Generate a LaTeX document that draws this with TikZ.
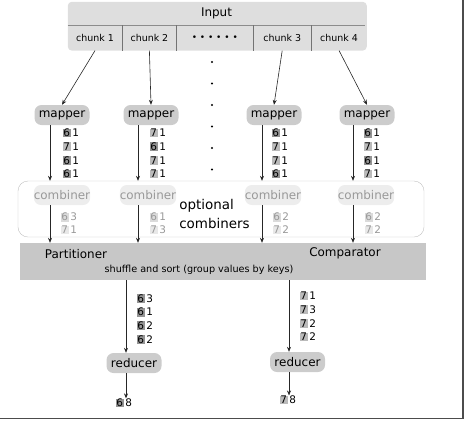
\documentclass[tikz,border=0pt]{standalone}
\usepackage{fontspec}
\setmainfont{DejaVu Sans}
\usetikzlibrary{arrows.meta,positioning,backgrounds}

\colorlet{six}{black!42}
\colorlet{seven}{black!27}
\colorlet{sixf}{black!14}
\colorlet{sevenf}{black!9}
\newcommand{\kv}[3]{{\setlength{\fboxsep}{0.5bp}\colorbox{#1}{#2}}\,#3}

\begin{document}
\begin{tikzpicture}[x=1bp, y=-1bp,
  node distance=0pt,
  chunk/.style={rectangle, minimum height=25bp, inner sep=0pt, font=\fontsize{9.5}{11}\selectfont},
  worker/.style={rectangle, rounded corners=7bp, fill=black!20, minimum width=55bp, minimum height=20bp, inner sep=0pt, font=\fontsize{12}{14}\selectfont},
  faded/.style={worker, fill=black!7, text=black!40},
  pairs/.style={align=left, inner sep=0pt, font=\fontsize{10.5}{13.7}\selectfont},
  arrow/.style={-{Stealth[length=5bp,width=4bp]}, line width=0.6bp, black!85}
]
  \useasboundingbox (0,0) rectangle (467,421);

  % input split into chunks
  \node[chunk, minimum width=297bp, minimum height=23bp, font=\fontsize{12}{14}\selectfont] (input) at (216.5,13.5) {Input};
  \node[chunk, minimum width=54bp, anchor=north west] (k1) at (input.south west) {chunk 1};
  \node[chunk, minimum width=54bp, right=of k1] (k2) {chunk 2};
  \node[chunk, minimum width=76bp, right=of k2, font=\fontsize{9}{11}\selectfont] (k3) {• • • • • •};
  \node[chunk, minimum width=58bp, right=of k3] (k4) {chunk 3};
  \node[chunk, minimum width=55bp, right=of k4] (k5) {chunk 4};
  \begin{scope}[on background layer]
    \fill[black!13, rounded corners=4bp] (input.north west) rectangle (k5.south east);
  \end{scope}
  \draw[black!45, line width=0.8bp] (input.south west) -- (input.south east);
  \foreach \k in {1,...,4}
    \draw[black!55, line width=0.8bp] (k\k.north east) -- (k\k.south east);
  \foreach \y in {62,83.5,...,170}
    \fill (212,\y) circle (1.2bp);

  % mappers
  \foreach \i/\x in {1/62,2/151,3/274,4/367}
    \node[worker] (m\i) at (\x,115) {mapper};
  \draw[arrow] (k1.south) -- (m1.north);
  \draw[arrow] (k2.south) -- (m2.north);
  \draw[arrow] (k4.south) -- (m3.north);
  \draw[arrow] (k5.south) -- (m4.north);

  \node[pairs] (p1) at (71,153.5) {\kv{six}{6}{1}\\\kv{seven}{7}{1}\\\kv{six}{6}{1}\\\kv{six}{6}{1}};
  \node[pairs] (p2) at (158,153.5) {\kv{seven}{7}{1}\\\kv{six}{6}{1}\\\kv{seven}{7}{1}\\\kv{seven}{7}{1}};
  \node[pairs] (p3) at (280,153.5) {\kv{six}{6}{1}\\\kv{seven}{7}{1}\\\kv{seven}{7}{1}\\\kv{six}{6}{1}};
  \node[pairs] (p4) at (372,153.5) {\kv{six}{6}{1}\\\kv{seven}{7}{1}\\\kv{six}{6}{1}\\\kv{seven}{7}{1}};

  % optional combiners
  \node[draw=black!25, rounded corners=10bp, minimum width=406bp, minimum height=56bp] (opt) at (221,209) {};
  \foreach \i/\x in {1/62,2/148,3/273,4/366}
    \node[faded] (c\i) at (\x,195) {combiner};
  \node[align=left, inner sep=0pt, font=\fontsize{13.5}{19}\selectfont] (optlabel) at (214.5,214) {optional\\combiners};
  \node[pairs, text=black!40] (q1) at (69,223.5) {\kv{sixf}{6}{3}\\[-0.7bp]\kv{sevenf}{7}{1}};
  \node[pairs, text=black!40] (q2) at (158,223.5) {\kv{sixf}{6}{1}\\[-0.7bp]\kv{sevenf}{7}{3}};
  \node[pairs, text=black!40] (q3) at (281,223.5) {\kv{sixf}{6}{2}\\[-0.7bp]\kv{sevenf}{7}{2}};
  \node[pairs, text=black!40] (q4) at (373,223.5) {\kv{sixf}{6}{2}\\[-0.7bp]\kv{sevenf}{7}{2}};

  % shuffle and sort
  \node[fill=black!22, minimum width=406bp, minimum height=37bp] (part) at (223,261.5) {};
  \node[font=\fontsize{12}{14}\selectfont] (partl) at (76,254) {Partitioner};
  \node[font=\fontsize{12}{14}\selectfont] (compl) at (345,253) {Comparator};
  \node[font=\fontsize{9.7}{11}\selectfont] (shuffle) at (199,270) {shuffle and sort (group values by keys)};

  \foreach \i/\x in {1/50,2/138,3/262,4/353} {
    \path (\x,0) coordinate (x\i);
    \draw[arrow] (m\i.south -| x\i) -- (opt.north -| x\i);
    \draw[arrow] (c\i.south -| x\i) -- (part.north -| x\i);
  }

  % reducers
  \node[worker] (r1) at (134,363) {reducer};
  \node[worker] (r2) at (297.5,362) {reducer};
  \node[pairs] (s1) at (145,319) {\kv{six}{6}{3}\\\kv{six}{6}{1}\\\kv{six}{6}{2}\\\kv{six}{6}{2}};
  \node[pairs] (s2) at (308,316.5) {\kv{seven}{7}{1}\\\kv{seven}{7}{3}\\\kv{seven}{7}{2}\\\kv{seven}{7}{2}};
  \node[pairs] (o1) at (124,403) {\kv{six}{6}{8}};
  \node[pairs] (o2) at (288,400) {\kv{seven}{7}{8}};
  \path (126,0) coordinate (y1) (289,0) coordinate (y2);
  \draw[arrow] (part.south -| y1) -- (r1.north -| y1);
  \draw[arrow] (part.south -| y2) -- (r2.north -| y2);
  \draw[arrow] (r1.south -| y1) -- (o1.north -| y1);
  \draw[arrow] (r2.south -| y2) -- (o2.north -| y2);

  % frame
  \draw[black!70, line width=1.6bp] (463,0) -- (463,418.5) -- (0,418.5);
\end{tikzpicture}
\end{document}
